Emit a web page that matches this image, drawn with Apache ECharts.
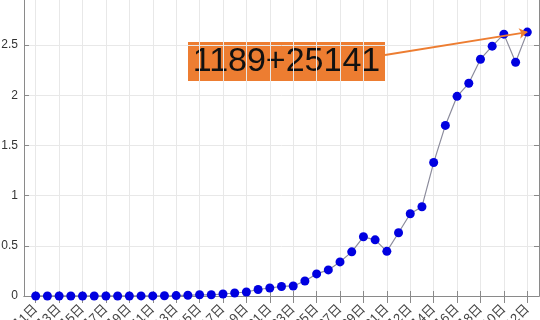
<!DOCTYPE html>
<html>
<head>
<meta charset="utf-8">
<script src="https://cdn.jsdelivr.net/npm/echarts@6/dist/echarts.min.js"></script>
<style>html,body{margin:0;padding:0;background:#fff;}#c{width:540px;height:320px;}</style>
</head>
<body>
<div id="c"></div>
<script>
const dateLabels = ['1月1日','1月2日','1月3日','1月4日','1月5日','1月6日','1月7日','1月8日','1月9日','1月10日',
  '1月11日','1月12日','1月13日','1月14日','1月15日','1月16日','1月17日','1月18日','1月19日','1月20日',
  '1月21日','1月22日','1月23日','1月24日','1月25日','1月26日','1月27日','1月28日','1月29日','1月30日',
  '1月31日','2月1日','2月2日','2月3日','2月4日','2月5日','2月6日','2月7日','2月8日','2月9日',
  '2月10日','2月11日','2月12日'];
const values = [0.0003,0.0003,0.0003,0.0003,0.0004,0.0004,0.0004,0.0005,0.0005,0.0006,
  0.001,0.002,0.004,0.008,0.012,0.012,0.02,0.03,0.04,0.065,
  0.08,0.095,0.10,0.15,0.22,0.26,0.34,0.44,0.59,0.56,
  0.445,0.63,0.82,0.89,1.33,1.70,1.99,2.12,2.36,2.49,
  2.61,2.33,2.63];
const annotationText = '1189+25141';
const yTicks = { min: 0, max: 3, interval: 0.5 };

const xData = [''].concat(dateLabels, ['']);
const seriesData = [null].concat(values, [null]);
const lastIdx = xData.length - 2;
const odd = (i) => i % 2 === 1;
const orange = '#ED7D31';
const axisGray = '#8a8a8a';
const font = '"Liberation Sans", Arial, "Noto Sans CJK SC", sans-serif';

const chart = echarts.init(document.getElementById('c'), null, {renderer: 'canvas'});
chart.setOption({
  animation: false,
  backgroundColor: '#fff',
  grid: { left: 24, right: 1, top: -5, bottom: 24, containLabel: false, outerBoundsMode: 'none' },
  xAxis: [{
    type: 'category', data: xData, boundaryGap: false, position: 'bottom',
    axisLine: { show: true, lineStyle: { color: axisGray, width: 1 } },
    axisTick: { show: true, inside: true, length: 5, interval: odd, lineStyle: { color: axisGray } },
    axisLabel: { show: true, interval: odd, rotate: 45, margin: 11, color: '#444', fontSize: 13, fontFamily: font, hideOverlap: false },
    splitLine: { show: true, interval: odd, lineStyle: { color: '#e8e8e8', width: 1 } }
  }, {
    type: 'category', data: xData, boundaryGap: false, position: 'top',
    axisLine: { show: true, lineStyle: { color: axisGray } },
    axisTick: { show: true, inside: true, length: 7, interval: odd, lineStyle: { color: axisGray } },
    axisLabel: { show: false }, splitLine: { show: false }
  }],
  yAxis: [{
    type: 'value', min: yTicks.min, max: yTicks.max, interval: yTicks.interval, position: 'left',
    axisLine: { show: true, lineStyle: { color: axisGray, width: 1 } },
    axisTick: { show: true, inside: true, length: 5, lineStyle: { color: axisGray } },
    axisLabel: { color: '#333', fontSize: 12, margin: 6, fontFamily: font },
    splitLine: { show: true, lineStyle: { color: '#e8e8e8', width: 1 } }
  }, {
    type: 'value', min: yTicks.min, max: yTicks.max, interval: yTicks.interval, position: 'right',
    axisLine: { show: true, lineStyle: { color: axisGray } },
    axisTick: { show: true, inside: true, length: 5, lineStyle: { color: axisGray } },
    axisLabel: { show: false }, splitLine: { show: false }
  }],
  series: [{
    type: 'line', data: seriesData, xAxisIndex: 0, yAxisIndex: 0,
    symbol: 'circle', symbolSize: 9, showSymbol: true, showAllSymbol: true,
    itemStyle: { color: '#0000e0', borderColor: '#0000e0', borderWidth: 0 },
    lineStyle: { color: '#8c8c9c', width: 1.2 },
    markLine: {
      silent: true, animation: false,
      symbol: ['none', 'arrow'], symbolSize: 8,
      label: { show: false },
      lineStyle: { color: orange, width: 1.8, type: 'solid' },
      data: [[{ x: 385, y: 55 }, { coord: [lastIdx, values[values.length - 1]] }]]
    }
  }],
  graphic: [{
    type: 'group', left: 188, top: 42,
    children: [{
      type: 'rect', shape: { x: 0, y: 0, width: 197, height: 39 },
      style: { fill: orange }
    }, {
      type: 'text', x: 98.5, y: 20,
      style: { text: annotationText, fill: '#111', font: '34px "Liberation Sans", Arial, sans-serif',
               textAlign: 'center', textVerticalAlign: 'middle' }
    }]
  }]
});
</script>
</body>
</html>
